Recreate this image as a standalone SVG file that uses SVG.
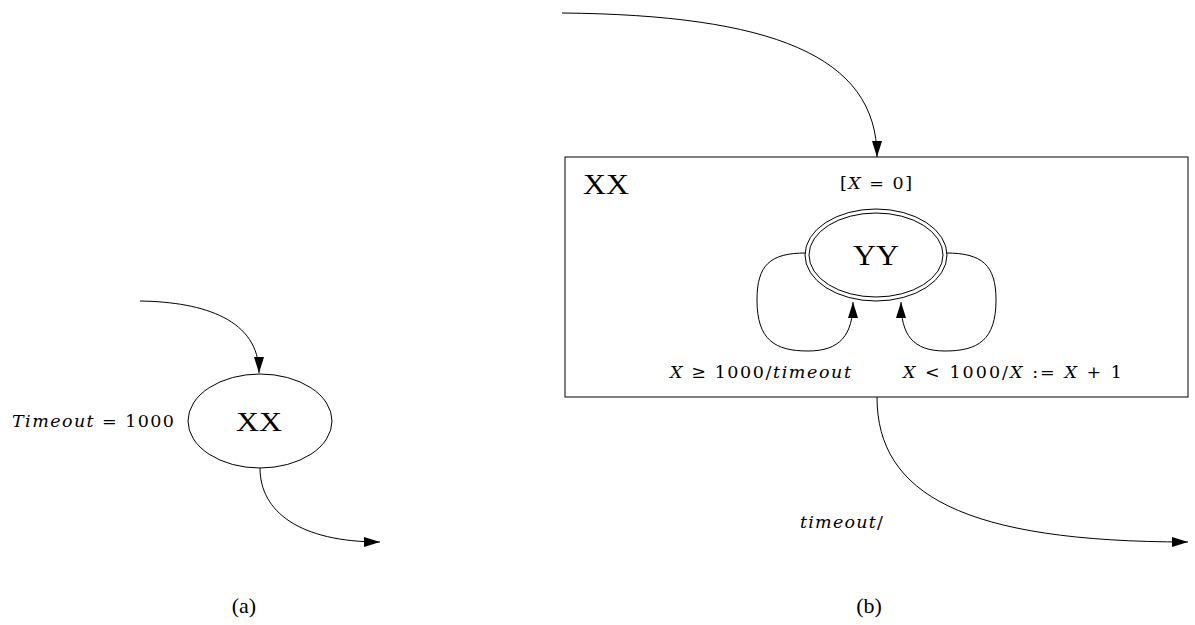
<svg xmlns="http://www.w3.org/2000/svg" width="1195" height="625" viewBox="0 0 1195 625">
<defs>
<marker id="ah" markerWidth="16" markerHeight="10" refX="16" refY="5" orient="auto" markerUnits="userSpaceOnUse">
<path d="M0,0 L16,5 L0,10 Z" fill="#000"/>
</marker>
</defs>
<style>
text{font-family:"Liberation Serif","DejaVu Serif",serif;fill:#000}
.m{font-family:"DejaVu Serif","Liberation Serif",serif;font-size:17.5px}
.i{font-style:italic}
.edge{fill:none;stroke:#000;stroke-width:1}
.node{fill:#fff;stroke:#000;stroke-width:1}
.box{fill:none;stroke:#000;stroke-width:1}
</style>
<rect width="1195" height="625" fill="#fff"/>
<g id="nodeA">
<ellipse class="node" cx="260" cy="421" rx="72" ry="47"/>
<text x="236" y="431" font-size="28" textLength="46" lengthAdjust="spacingAndGlyphs">XX</text>
</g>
<g id="labelA">
<text class="m" x="12" y="427" textLength="162"><tspan class="i">Timeout</tspan> = 1000</text>
<text x="244" y="613" font-size="22" text-anchor="middle">(a)</text>
</g>
<g id="nodeB">
<rect class="box" x="565" y="157" width="623" height="240"/>
<text x="583" y="194" font-size="30" textLength="46" lengthAdjust="spacingAndGlyphs">XX</text>
<text class="m" x="840" y="189" textLength="72">[<tspan class="i">X</tspan> = 0]</text>
</g>
<g id="nodeYY">
<ellipse class="node" cx="876" cy="255" rx="71" ry="46"/>
<ellipse class="node" cx="876" cy="255" rx="67" ry="42"/>
<text x="853" y="265" font-size="30" textLength="46" lengthAdjust="spacingAndGlyphs">YY</text>
</g>
<g id="labelsB">
<text class="m" x="670" y="378" textLength="181"><tspan class="i">X</tspan> ≥ 1000/<tspan class="i">timeout</tspan></text>
<text class="m" x="903" y="378" textLength="219"><tspan class="i">X</tspan> &lt; 1000/<tspan class="i">X</tspan> := <tspan class="i">X</tspan> + 1</text>
<text class="m" x="800" y="528" textLength="83"><tspan class="i">timeout</tspan>/</text>
<text x="869" y="613" font-size="22" text-anchor="middle">(b)</text>
</g>
<g id="connectors">
<path class="edge" d="M140,301 C205,302 259,320 259,373" marker-end="url(#ah)"/>
<path class="edge" d="M260,468 C260,512 300,542 380,542" marker-end="url(#ah)"/>
<path class="edge" d="M562,13 C770,15 877,55 877,157" marker-end="url(#ah)"/>
<path class="edge" d="M877,397 C877,495 965,542 1188,542" marker-end="url(#ah)"/>
<path class="edge" d="M806,253 C770,253 757,265 757,300 C757,340 775,351 808,351 C840,351 853,335 853,302" marker-end="url(#ah)"/>
<path class="edge" d="M946,253 C982,253 996,265 996,300 C996,340 978,351 945,351 C913,351 901,335 901,302" marker-end="url(#ah)"/>
</g>
</svg>
